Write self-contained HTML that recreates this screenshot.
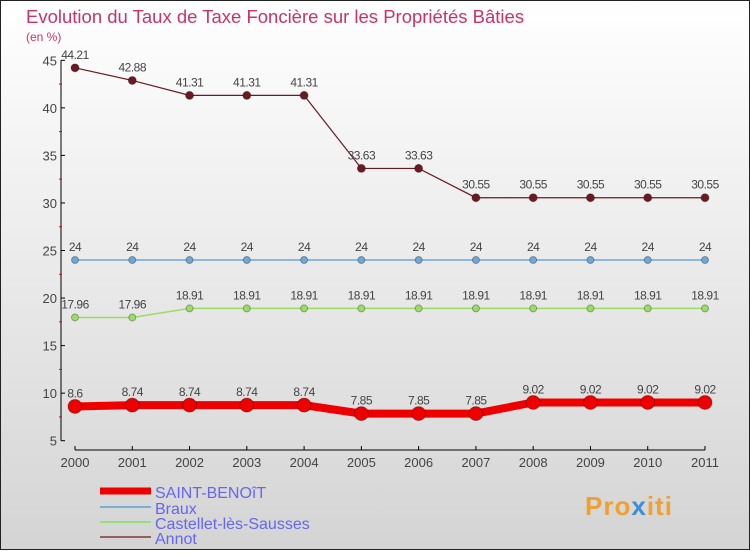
<!DOCTYPE html>
<html><head><meta charset="utf-8"><style>
body{margin:0;width:750px;height:550px;overflow:hidden;font-family:"Liberation Sans",sans-serif}
</style></head><body>
<svg id="c" width="750" height="550" xmlns="http://www.w3.org/2000/svg">
<defs><linearGradient id="bg" x1="0" y1="0" x2="0" y2="1"><stop offset="0" stop-color="#ffffff"/><stop offset="1" stop-color="#d4d4d4"/></linearGradient></defs>
<rect x="0.5" y="0.5" width="749" height="549" fill="url(#bg)" stroke="#222"/>
<text x="26" y="23" font-size="18.5" fill="#c8336a">Evolution du Taux de Taxe Foncière sur les Propriétés Bâties</text>
<text x="26" y="41" font-size="12" fill="#c8336a">(en %)</text>
<g id="axes"></g><g id="series"></g>
<g id="legend"></g>
<text x="585" y="515" font-size="26" font-weight="bold" fill="#f0a030" letter-spacing="1">Pro<tspan fill="#3a8fd8">x</tspan>iti</text>
</svg>
<script>
const years=["2000","2001","2002","2003","2004","2005","2006","2007","2008","2009","2010","2011"];
const saint=[8.6,8.74,8.74,8.74,8.74,7.85,7.85,7.85,9.02,9.02,9.02,9.02];
const braux=[24,24,24,24,24,24,24,24,24,24,24,24];
const castellet=[17.96,17.96,18.91,18.91,18.91,18.91,18.91,18.91,18.91,18.91,18.91,18.91];
const annot=[44.21,42.88,41.31,41.31,41.31,33.63,33.63,30.55,30.55,30.55,30.55,30.55];
const yTicks=[5,10,15,20,25,30,35,40,45];
const NS="http://www.w3.org/2000/svg";
function X(i){return 75+i*(630/11);}
function Y(v){return 440.7-(v-5)*9.51;}
function mk(t,a,p){const e=document.createElementNS(NS,t);for(const k in a)e.setAttribute(k,a[k]);p.appendChild(e);return e;}
const ax=document.getElementById('axes');
let l=mk('line',{x1:61,y1:Y(45),x2:61,y2:Y(5),stroke:'#000'},ax);


l=mk('line',{x1:X(0),y1:450,x2:X(11),y2:450,stroke:'#000'},ax);


yTicks.forEach(v=>{
 mk('line',{x1:61,y1:Y(v),x2:65,y2:Y(v),stroke:'#000'},ax);
 if(v<45)mk('line',{x1:59,y1:Y(v+2.5),x2:62,y2:Y(v+2.5),stroke:'#e00'},ax);
 const t=mk('text',{x:57,y:Y(v)+5,'font-size':13,fill:'#444','text-anchor':'end'},ax);t.textContent=v;
 
 
});
years.forEach((y,i)=>{
 mk('line',{x1:X(i),y1:446,x2:X(i),y2:450,stroke:'#000'},ax);
 const t=mk('text',{x:X(i),y:467,'font-size':13,fill:'#444','text-anchor':'middle'},ax);t.textContent=y;
 
 
});
const sg=document.getElementById('series');
function draw(data,color,w,r,name){
 const g=mk('g',{},sg);
 
 
 mk('polyline',{points:data.map((v,i)=>X(i)+','+Y(v)).join(' '),fill:'none',stroke:color,'stroke-width':w},g);
 data.forEach((v,i)=>{
  const c=mk('circle',{cx:X(i),cy:Y(v),r:r,fill:color,stroke:'rgba(0,0,0,0.3)'},g);
  
  
  const t=mk('text',{x:X(i),y:Y(v)-9,'font-size':12,fill:'#444','text-anchor':'middle','letter-spacing':'-0.5'},g);
  t.textContent=String(v);
  
  
 });
}
draw(braux,'#6fa8d6',1.5,3.5,'series-braux');
draw(castellet,'#99dd66',1.5,3.5,'series-castellet');
draw(annot,'#6b1a22',1.2,4,'series-annot');
draw(saint,'#ee0000',8,7,'series-saint-benoit');
const lg=document.getElementById('legend');
[['SAINT-BENOîT','#ee0000',7,492],['Braux','#7aaed0',2,508],['Castellet-lès-Sausses','#99dd77',2,523],['Annot','#946060',2,538]].forEach(e=>{
 const g=mk('g',{},lg);
 
 
 mk('line',{x1:100,y1:e[3]-1,x2:151,y2:e[3]-1,stroke:e[1],'stroke-width':e[2]},g);
 const t=mk('text',{x:155,y:e[3]+6,'font-size':16,fill:'#6666ee'},g);t.textContent=e[0];
});
</script>
</body></html>
